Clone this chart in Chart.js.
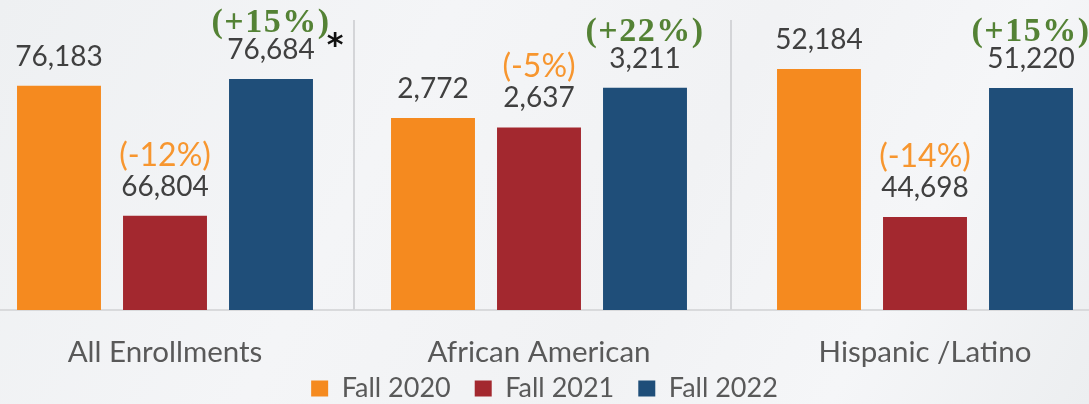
<!DOCTYPE html>
<html>
<head>
<meta charset="utf-8">
<script src="https://cdn.jsdelivr.net/npm/chart.js@4"></script>
<style>
  html, body { margin: 0; padding: 0; }
  body {
    width: 1089px; height: 404px; overflow: hidden; position: relative;
    background: linear-gradient(118deg, #eef0f2 0%, #f4f5f7 35%, #f1f2f4 60%, #f5f6f8 80%, #eceef0 100%);
  }
  canvas { position: absolute; left: 0; top: 0; }
  .vline { position: absolute; width: 2px; background: #d4d5d8; top: 20px; height: 290px; }
  .hline { position: absolute; left: 0; width: 1089px; top: 309px; height: 2px; background: #d9dadc; }
</style>
</head>
<body>
<div class="hline"></div>
<div class="vline" style="left:353px"></div>
<div class="vline" style="left:730px"></div>
<canvas id="c0" width="1089" height="404"></canvas>
<canvas id="c1" width="1089" height="404"></canvas>
<canvas id="c2" width="1089" height="404"></canvas>
<script>
// ---- data ----
const categories = ['All Enrollments', 'African American', 'Hispanic /Latino'];
const seriesNames = ['Fall 2020', 'Fall 2021', 'Fall 2022'];
const fall2020 = [76183, 2772, 52184];
const fall2021 = [66804, 2637, 44698];
const fall2022 = [76684, 3211, 51220];
const change2021 = ['(-12%)', '(-5%)', '(-14%)'];
const change2022 = ['(+15%)', '(+22%)', '(+15%)'];
const notes2022 = ['*', '', ''];
const axisMin = [60000, 0, 40000];
const axisMax = [80000, 4000, 54000];

// ---- styles ----
const colors = ['#F58A1F', '#A3282F', '#1F4E79'];
const areaLeft = [6, 380, 766];
const areaRight = [324, 698, 1084];
const W = 1089;
const xAxisH = 41;
const bottomTotal = 94; // from plot bottom (310) to canvas bottom (404)
const legendMaxH = bottomTotal - xAxisH;

function labelPlugin(i) {
  return {
    id: 'valLabels' + i,
    afterDatasetsDraw(chart) {
      const ctx = chart.ctx;
      ctx.save();
      ctx.textBaseline = 'alphabetic';
      chart.data.datasets.forEach((ds, d) => {
        const el = chart.getDatasetMeta(d).data[0];
        if (!el) return;
        const x = el.x, y = el.y;
        const txt = ds.data[0].toLocaleString('en-US');
        ctx.letterSpacing = '0px';
        ctx.font = '28px Lato';
        ctx.fillStyle = '#404040';
        ctx.textAlign = 'center';
        const vy = y - 20;
        ctx.fillText(txt, x, vy);
        const tw = ctx.measureText(txt).width;
        if (d === 1) {
          ctx.font = '32px Lato';
          ctx.fillStyle = '#F7962F';
          ctx.fillText(change2021[i], x, vy - 30);
        } else if (d === 2) {
          ctx.font = 'bold 34px "Liberation Serif"';
          ctx.letterSpacing = '1.5px';
          ctx.fillStyle = '#548235';
          ctx.fillText(change2022[i], x, vy - 27);
          ctx.letterSpacing = '0px';
          if (notes2022[i]) {
            ctx.font = 'bold 32px "DejaVu Sans"';
            ctx.fillStyle = '#111111';
            ctx.textAlign = 'left';
            ctx.fillText(notes2022[i], x + tw / 2 + 12, vy - 4);
          }
        }
      });
      ctx.restore();
    }
  };
}

function makeChart(i, showLegend) {
  const values = [fall2020, fall2021, fall2022];
  return new Chart(document.getElementById('c' + i), {
    type: 'bar',
    data: {
      labels: [categories[i]],
      datasets: seriesNames.map((n, k) => ({
        label: n,
        data: [values[k][i]],
        backgroundColor: colors[k],
        borderWidth: 0,
        categoryPercentage: 1.0,
        barPercentage: 0.792
      }))
    },
    options: {
      responsive: false,
      animation: false,
      devicePixelRatio: 1,
      layout: { padding: { top: 33, bottom: showLegend ? 0 : legendMaxH, left: 0, right: 0 } },
      plugins: {
        legend: {
          display: showLegend,
          position: 'bottom',
          maxHeight: legendMaxH,
          labels: {
            font: { family: 'Lato', size: 27 },
            color: '#595959',
            boxWidth: 17,
            boxHeight: 16,
            padding: 24
          }
        },
        tooltip: { enabled: false }
      },
      scales: {
        x: {
          grid: { display: false, drawTicks: false },
          border: { display: false },
          ticks: { font: { family: 'Lato', size: 29.5 }, color: '#595959', padding: 25 },
          afterFit: s => { s.height = xAxisH; }
        },
        y: {
          position: 'left',
          min: axisMin[i], max: axisMax[i],
          grid: { display: false, drawTicks: false },
          border: { display: false },
          ticks: { display: false },
          afterFit: s => { s.width = areaLeft[i]; }
        },
        yr: {
          position: 'right',
          grid: { display: false, drawTicks: false },
          border: { display: false },
          ticks: { display: false },
          afterFit: s => { s.width = W - areaRight[i]; }
        }
      }
    },
    plugins: [labelPlugin(i)]
  });
}

function unclipLabels(chart) {
  // let category labels extend below the short x-axis box
  chart.scales.x._computeLabelArea = () => undefined;
  chart.draw();
}

const c1 = makeChart(1, true);
const legH = c1.legend.height;
const pad = Math.max(0, bottomTotal - xAxisH - legH);
if (pad !== 0) { c1.options.layout.padding.bottom = pad; c1.update(); }
unclipLabels(c1);
unclipLabels(makeChart(0, false));
unclipLabels(makeChart(2, false));
</script>
</body>
</html>
